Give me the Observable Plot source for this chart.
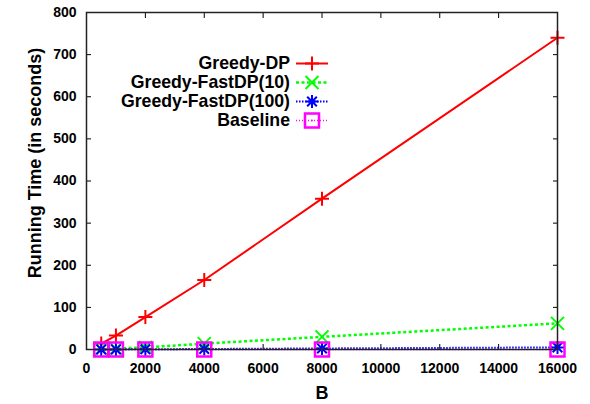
<!DOCTYPE html>
<html>
<head>
<meta charset="utf-8">
<script src="https://cdn.jsdelivr.net/npm/d3@7"></script>
<script src="https://cdn.jsdelivr.net/npm/@observablehq/plot@0.6"></script>
<style>
  html, body { margin: 0; padding: 0; background: #fff; }
  #chart { position: relative; width: 590px; height: 404px; font-family: "Liberation Sans", Arial, sans-serif; }
  #legend { position: absolute; left: 0; top: 54px; }
  #legend .row { display: flex; align-items: center; height: 19px; }
  #legend .row span { display: inline-block; width: 290px; text-align: right; font-weight: bold; font-size: 17.7px; color: #000; white-space: nowrap; }
  #legend .row svg { margin-left: 6px; overflow: visible; }
</style>
</head>
<body>
<div id="chart"></div>
<script>
// Running time against B for each method
const B = [500, 1000, 2000, 4000, 8000, 16000];
const greedyDP = [14, 33, 77, 165, 358, 740];
const greedyFastDP10 = [1, 2, 5, 14, 30, 62];
const greedyFastDP100 = [0.1, 0.2, 0.5, 1.2, 2.5, 5];
const baseline = [0.01, 0.02, 0.03, 0.05, 0.1, 0.2];

const seriesNames = ["Greedy-DP", "Greedy-FastDP(10)", "Greedy-FastDP(100)", "Baseline"];
const seriesValues = [greedyDP, greedyFastDP10, greedyFastDP100, baseline];
const seriesColors = ["#ff0000", "#00ff00", "#0000ff", "#ff00ff"];

const xTicks = [0, 2000, 4000, 6000, 8000, 10000, 12000, 14000, 16000];
const yTicks = [0, 100, 200, 300, 400, 500, 600, 700, 800];

// gnuplot-like point shapes; r is the half-width of the glyph
const half = (size) => Math.sqrt(size / Math.PI);
const symPlus = {draw(c, s) { const r = half(s); c.moveTo(-r, 0); c.lineTo(r, 0); c.moveTo(0, -r); c.lineTo(0, r); }};
const symTimes = {draw(c, s) { const r = half(s); c.moveTo(-r, -r); c.lineTo(r, r); c.moveTo(-r, r); c.lineTo(r, -r); }};
const symStar = {draw(c, s) { symPlus.draw(c, s); symTimes.draw(c, s * 0.55); }};
const symSquare = {draw(c, s) { const r = half(s); c.rect(-r, -r, 2 * r, 2 * r); }};

const styles = [
  {symbol: symPlus, r: 7, lineWidth: 2, dash: null, markWidth: 2},
  {symbol: symTimes, r: 6.5, lineWidth: 2.5, dash: "3,2.5", markWidth: 2},
  {symbol: symStar, r: 6.5, lineWidth: 2, dash: "1.5,1.5", markWidth: 2},
  {symbol: symSquare, r: 7, lineWidth: 1.5, dash: "1,2", markWidth: 2.5}
];

const rows = seriesNames.map((name, i) => B.map((b, j) => ({series: name, B: b, time: seriesValues[i][j]})));

const lineMarks = rows.map((data, i) => Plot.line(data, {
  x: "B", y: "time", stroke: seriesColors[i], strokeWidth: styles[i].lineWidth,
  strokeDasharray: styles[i].dash, strokeLinecap: "butt"
}));
const dotMarks = rows.map((data, i) => Plot.dot(data, {
  x: "B", y: "time", symbol: styles[i].symbol, r: styles[i].r, fill: "none",
  stroke: seriesColors[i], strokeWidth: styles[i].markWidth
}));
const centerDots = Plot.dot(rows[3], {x: "B", y: "time", r: 0.9, fill: "#ff00ff"});

const axisFont = {fontSize: 14, fontWeight: "bold"};

const plot = Plot.plot({
  width: 590,
  height: 404,
  marginLeft: 86,
  marginRight: 33,
  marginTop: 12,
  marginBottom: 55,
  style: {fontFamily: "'Liberation Sans', Arial, sans-serif", color: "#000", background: "#fff"},
  x: {domain: [0, 16000]},
  y: {domain: [0, 800]},
  marks: [
    Plot.axisX(xTicks, {anchor: "bottom", tickSize: -5, tickPadding: 19, label: null, ...axisFont, fill: "#000", tickFormat: d => String(d)}),
    Plot.axisX(xTicks, {anchor: "top", tickSize: -5, label: null, tickFormat: () => ""}),
    Plot.axisY(yTicks, {anchor: "left", tickSize: -5, tickPadding: 15, label: null, ...axisFont, fill: "#000", tickFormat: d => String(d)}),
    Plot.axisY(yTicks, {anchor: "right", tickSize: -5, label: null, tickFormat: () => ""}),
    ...lineMarks,
    ...dotMarks,
    centerDots,
    Plot.frame({stroke: "#222", strokeWidth: 1.5}),
    Plot.text(["B"], {frameAnchor: "bottom", lineAnchor: "middle", dy: 44, fontSize: 18, fontWeight: "bold", fill: "#000"}),
    Plot.text(["Running Time (in seconds)"], {frameAnchor: "left", textAnchor: "middle", lineAnchor: "middle", dx: -51, dy: -18, rotate: -90, fontSize: 18, fontWeight: "bold", fill: "#000"})
  ]
});

const chart = document.getElementById("chart");
chart.appendChild(plot);

// Legend in the upper left of the plot area
const legend = d3.select(chart).append("div").attr("id", "legend");
seriesNames.forEach((name, i) => {
  const row = legend.append("div").attr("class", "row");
  row.append("span").text(name);
  const svg = row.append("svg").attr("width", 32).attr("height", 19);
  svg.append("line")
    .attr("x1", 0).attr("x2", 32).attr("y1", 9.5).attr("y2", 9.5)
    .attr("stroke", seriesColors[i]).attr("stroke-width", styles[i].lineWidth)
    .attr("stroke-dasharray", styles[i].dash);
  svg.append("path")
    .attr("transform", "translate(16,9.5)")
    .attr("d", d3.symbol(styles[i].symbol, Math.PI * styles[i].r * styles[i].r)())
    .attr("fill", "none").attr("stroke", seriesColors[i]).attr("stroke-width", styles[i].markWidth);
  if (i === 3) svg.append("circle").attr("cx", 16).attr("cy", 9.5).attr("r", 0.9).attr("fill", seriesColors[i]);
});
</script>
</body>
</html>
